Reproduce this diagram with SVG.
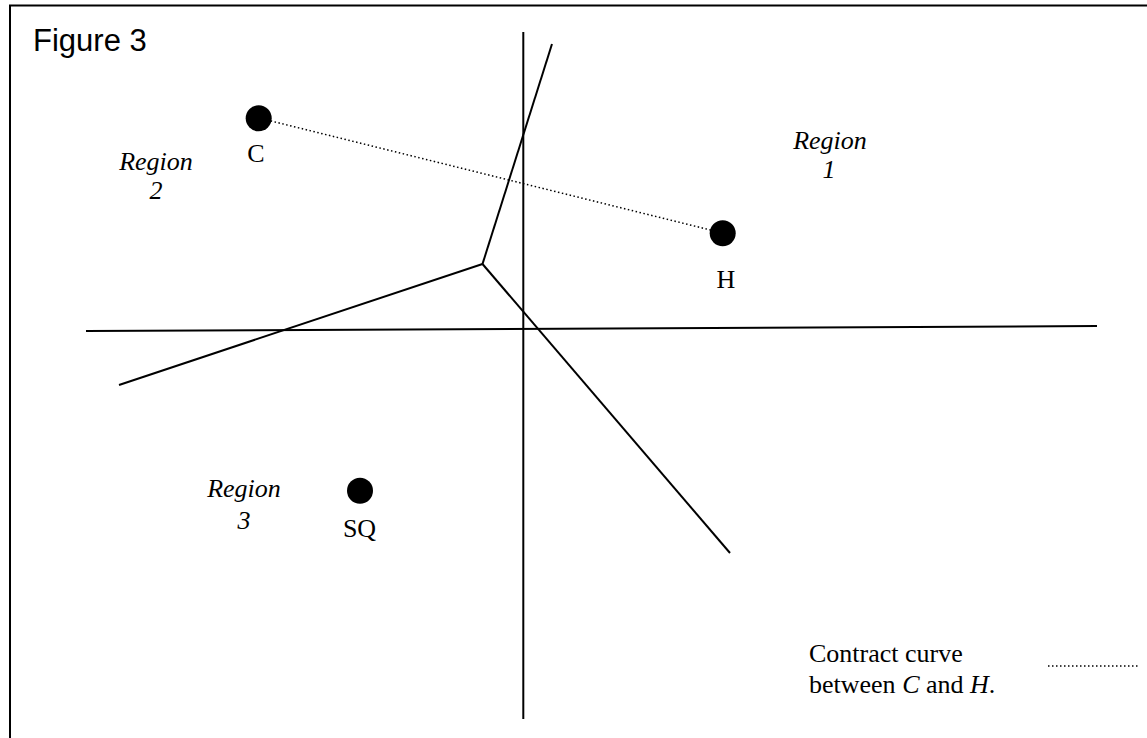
<svg xmlns="http://www.w3.org/2000/svg" width="1147" height="738" viewBox="0 0 1147 738">
<style>
.ln{stroke:#000;stroke-width:2;fill:none;stroke-linecap:butt}
.dot{fill:#000}
.t{font-family:"Liberation Serif","Times New Roman",serif;font-size:26px;fill:#000;text-anchor:middle}
.st{text-anchor:start}
.it{font-style:italic}
.fig{font-family:"Liberation Sans",Arial,sans-serif;font-size:31px;fill:#000}
.dotted{stroke:#000;stroke-width:1.5;stroke-dasharray:1.5 2.5;fill:none}
</style>
<rect width="1147" height="738" fill="#fff"/>
<path class="ln" d="M10,738 V5.5 H1147" stroke-width="2.5"/>
<text class="fig" x="33" y="51">Figure 3</text>
<g id="axes">
<line class="ln" x1="523.3" y1="32" x2="523.3" y2="719"/>
<line class="ln" x1="86" y1="331" x2="1097" y2="326"/>
</g>
<g id="boundaries">
<line class="ln" x1="482.5" y1="264" x2="552" y2="44"/>
<line class="ln" x1="482.5" y1="264" x2="119" y2="385"/>
<line class="ln" x1="482.5" y1="264" x2="730" y2="553"/>
</g>
<g id="connectors">
<line class="dotted" x1="259" y1="118" x2="722.5" y2="233"/>
</g>
<g id="node-C">
<circle class="dot" cx="258.7" cy="118.3" r="13"/>
<text class="t" x="256" y="162">C</text>
</g>
<g id="node-H">
<circle class="dot" cx="722.7" cy="233.3" r="13"/>
<text class="t" x="726" y="288">H</text>
</g>
<g id="node-SQ">
<circle class="dot" cx="360" cy="490.7" r="13"/>
<text class="t" x="359.5" y="537">SQ</text>
</g>
<g id="region1">
<text class="t it" x="830" y="149">Region</text>
<text class="t it" x="829" y="178">1</text>
</g>
<g id="region2">
<text class="t it" x="156" y="170">Region</text>
<text class="t it" x="156" y="199">2</text>
</g>
<g id="region3">
<text class="t it" x="244" y="497">Region</text>
<text class="t it" x="244" y="529">3</text>
</g>
<g id="legend">
<text class="t st" x="809" y="662">Contract curve</text>
<text class="t st" x="809" y="693">between <tspan class="it">C</tspan> and <tspan class="it">H</tspan>.</text>
<line class="dotted" x1="1048" y1="666" x2="1139" y2="666"/>
</g>
</svg>
